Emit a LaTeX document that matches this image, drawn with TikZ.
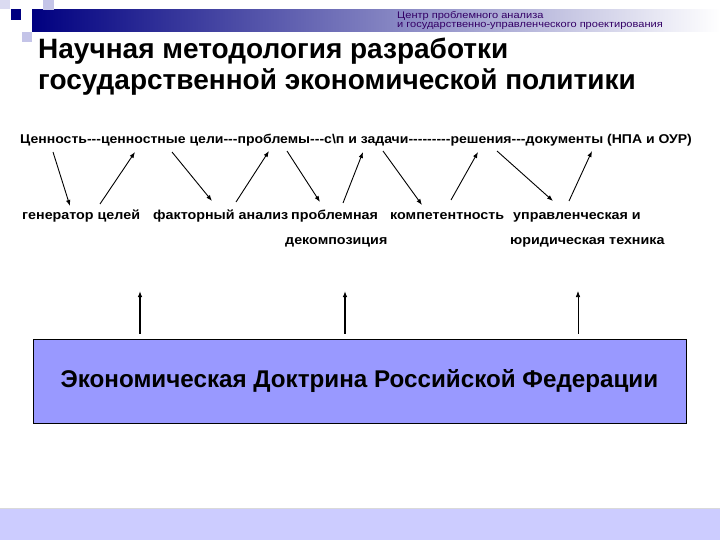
\documentclass[tikz,border=0pt]{standalone}
\usepackage{fontspec}
\setmainfont{Liberation Sans}
\newfontfamily\wideface[FakeStretch=1.1]{Liberation Sans}
\newfontfamily\creditface[FakeStretch=1.15]{Liberation Sans}
\usetikzlibrary{arrows.meta,positioning}

\definecolor{slideNavy}{RGB}{0,0,128}
\definecolor{boxBlue}{RGB}{153,153,255}
\definecolor{bandBlue}{RGB}{204,204,255}
\definecolor{squareLilac}{RGB}{196,196,232}
\definecolor{headPurple}{RGB}{51,0,102}

\tikzset{
  link/.style={-{Latex[length=6pt,width=4.5pt]}, line width=0.9pt},
  lift/.style={-{Latex[length=6pt,width=4.5pt]}, line width=1.2pt},
  word/.style={anchor=base west, inner sep=0pt, font=\wideface\bfseries\fontsize{13}{15}\selectfont},
  chainword/.style={word, font=\wideface\bfseries\fontsize{12.75}{15}\selectfont},
  headline/.style={anchor=base west, inner sep=0pt, font=\bfseries\fontsize{28}{32}\selectfont},
  credit/.style={anchor=base west, inner sep=0pt, text=headPurple, font=\creditface\fontsize{9.6}{10}\selectfont},
}

\begin{document}
\begin{tikzpicture}[x=1pt,y=-1pt]
\useasboundingbox (0,0) rectangle (720,540);
\fill[white] (0,0) rectangle (720,540);

% slide header
\shade[left color=slideNavy, right color=white] (32,10) rectangle (720,32);
\fill[slideNavy] (11,9) rectangle (21,20);
\fill[squareLilac] (22,32) rectangle (32,42);
\fill[squareLilac] (43,0) rectangle (54,10);
\fill[squareLilac, opacity=0.6] (0,0) rectangle (10,9);
\node[credit] (centre) at (397,18.5) {Центр проблемного анализа};
\node[credit] (centre2) at (397,28) {и государственно-управленческого проектирования};

\node[headline] (title1) at (38,59) {Научная методология разработки};
\node[headline] (title2) at (38,90) {государственной экономической политики};

% chain
\node[chainword] (chain) at (20,144) {Ценность-{}--ценностные цели-{}-{}-проблемы-{}-{}-с\textbackslash п и задачи-{}--{}-{}-{}-{}-{}-{}-решения-{}--документы (НПА и ОУР)};

\node[word] (gen) at (22,219) {генератор целей};
\node[word] (fact) at (153,219) {факторный анализ};
\node[word] (dec) at (291,219) {проблемная};
\node[word] (dec2) at (285,244) {декомпозиция};
\node[word] (comp) at (390,219) {компетентность};
\node[word] (tech) at (513,219) {управленческая и};
\node[word] (tech2) at (510,244) {юридическая техника};

\coordinate (valOut) at (53,152);
\coordinate (goalsIn) at (135,152);
\coordinate (goalsOut) at (172,152);
\coordinate (probsIn) at (269,151);
\coordinate (probsOut) at (287,151);
\coordinate (tasksIn) at (363,152);
\coordinate (tasksOut) at (383,151);
\coordinate (solsIn) at (478,152);
\coordinate (solsOut) at (497,151);
\coordinate (docsIn) at (592,151);

\coordinate (genIn) at (70,206);
\coordinate (genOut) at (100,204);
\coordinate (factIn) at (212,201);
\coordinate (factOut) at (236,202);
\coordinate (decIn) at (320,202);
\coordinate (decOut) at (343,203);
\coordinate (compIn) at (422,205);
\coordinate (compOut) at (451,200);
\coordinate (techIn) at (553,201);
\coordinate (techOut) at (569,201);

\draw[link] (valOut) -- (genIn);
\draw[link] (genOut) -- (goalsIn);
\draw[link] (goalsOut) -- (factIn);
\draw[link] (factOut) -- (probsIn);
\draw[link] (probsOut) -- (decIn);
\draw[link] (decOut) -- (tasksIn);
\draw[link] (tasksOut) -- (compIn);
\draw[link] (compOut) -- (solsIn);
\draw[link] (solsOut) -- (techIn);
\draw[link] (techOut) -- (docsIn);

% doctrine
\node[draw, fill=boxBlue, line width=0.8pt, minimum width=653pt, minimum height=84pt, inner sep=0pt,
  font=\bfseries\fontsize{24.2}{28}\selectfont] (doctrine) at (359.5,381) {Экономическая Доктрина Российской Федерации};

\coordinate (up1) at (140,291);
\coordinate (up2) at (345,291);
\coordinate (up3) at (578,291);
\draw[lift] ([yshift=5pt]up1 |- doctrine.north) -- (up1);
\draw[lift] ([yshift=5pt]up2 |- doctrine.north) -- (up2);
\draw[link, line width=0.7pt] ([yshift=5pt]up3 |- doctrine.north) -- (up3);

\fill[bandBlue] (0,508) rectangle (720,540);
\draw[black!15] (0,508) -- (720,508);
\end{tikzpicture}
\end{document}
